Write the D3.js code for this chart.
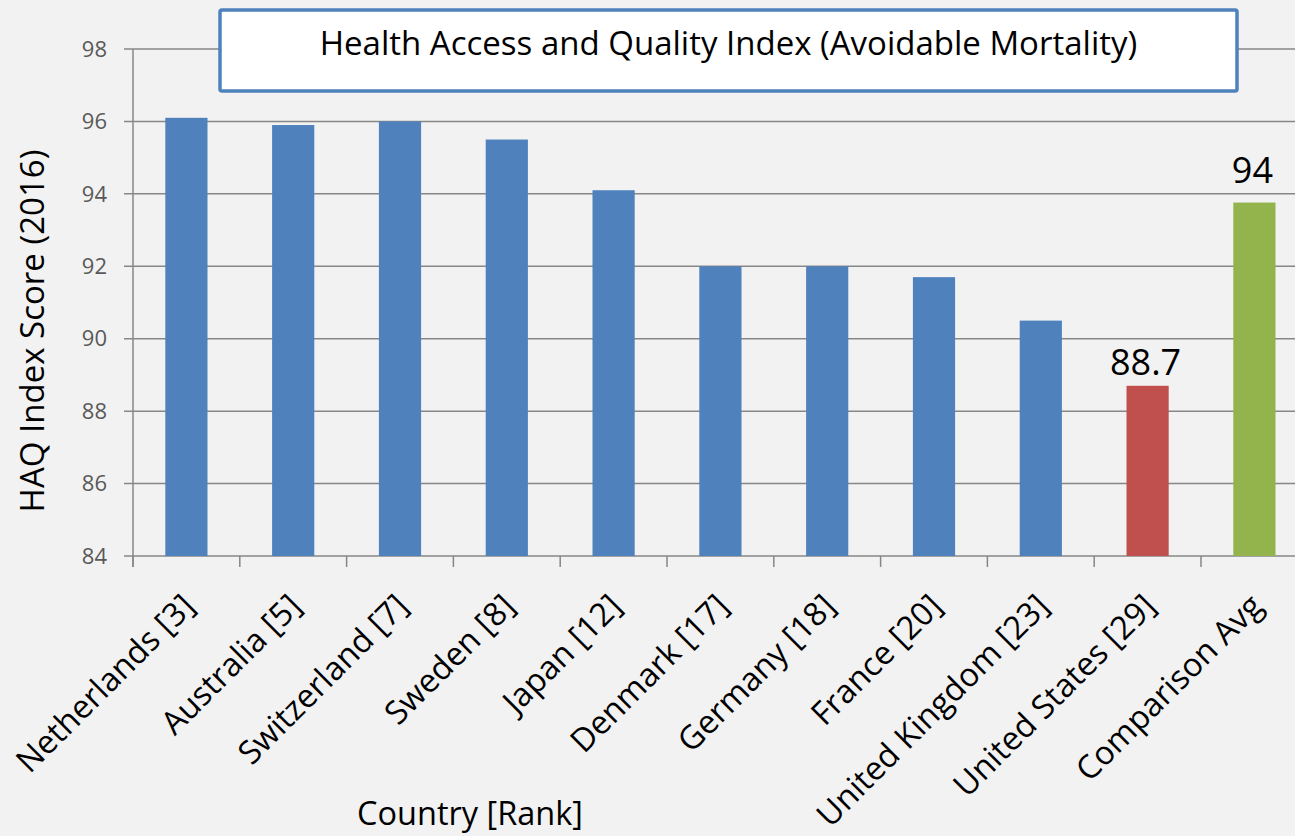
<!DOCTYPE html>
<html>
<head>
<meta charset="utf-8">
<script src="https://cdn.jsdelivr.net/npm/d3@7"></script>
<style>
  html, body { margin: 0; padding: 0; background: #f2f2f2; overflow: hidden; }
  svg { display: block; font-family: "Open Sans", Lato, sans-serif; }
</style>
</head>
<body>
<svg id="chart" width="1295" height="836"></svg>
<script>
// data
const countries = ["Netherlands [3]", "Australia [5]", "Switzerland [7]", "Sweden [8]", "Japan [12]",
  "Denmark [17]", "Germany [18]", "France [20]", "United Kingdom [23]", "United States [29]", "Comparison Avg"];
const scores = [96.1, 95.9, 96.0, 95.5, 94.1, 92.0, 92.0, 91.7, 90.5, 88.7, 93.76];
const barColors = ["#4f81bd", "#4f81bd", "#4f81bd", "#4f81bd", "#4f81bd", "#4f81bd", "#4f81bd", "#4f81bd", "#4f81bd", "#c0504d", "#93b44c"];
const yTicks = [84, 86, 88, 90, 92, 94, 96, 98];
// value labels shown above two of the bars
const labelCats = ["United States [29]", "Comparison Avg"];
const labelVals = [88.7, 94];

const titleText = "Health Access and Quality Index (Avoidable Mortality)";
const yTitle = "HAQ Index  Score (2016)";
const xTitle = "Country [Rank]";

const svg = d3.select("#chart");
const mLeft = 133, mTop = 49, mBottom = 556, step = 106.8;

const x = d3.scaleBand().domain(countries).range([mLeft, mLeft + step * countries.length]).padding(0);
const y = d3.scaleLinear().domain([84, 98]).range([mBottom, mTop]);
const barW = x.bandwidth() * 0.395;
const gridColor = "#878787";

// grid lines
svg.append("g").selectAll("line").data(yTicks).join("line")
  .attr("x1", mLeft - 9).attr("x2", 1295)
  .attr("y1", d => y(d)).attr("y2", d => y(d))
  .attr("stroke", gridColor).attr("stroke-width", 1.5);

// y axis line
svg.append("line").attr("x1", mLeft).attr("x2", mLeft).attr("y1", mTop).attr("y2", mBottom + 11)
  .attr("stroke", gridColor).attr("stroke-width", 1.5);

// x ticks at band boundaries
svg.append("g").selectAll("line").data(countries).join("line")
  .attr("x1", d => x(d)).attr("x2", d => x(d))
  .attr("y1", mBottom).attr("y2", mBottom + 11)
  .attr("stroke", gridColor).attr("stroke-width", 1.5);

// y tick labels
svg.append("g").selectAll("text").data(yTicks).join("text")
  .attr("x", 107).attr("y", d => y(d))
  .attr("dy", "0.35em")
  .attr("text-anchor", "end")
  .attr("font-size", 22)
  .attr("fill", "#595959")
  .text(d => d);

// bars
svg.append("g").selectAll("rect").data(countries).join("rect")
  .attr("x", d => x(d) + x.bandwidth() / 2 - barW / 2)
  .attr("width", barW)
  .attr("y", (d, i) => y(scores[i]))
  .attr("height", (d, i) => y(84) - y(scores[i]))
  .attr("fill", (d, i) => barColors[i]);

// value labels
svg.append("g").selectAll("text").data(labelCats).join("text")
  .attr("x", d => x(d) + x.bandwidth() / 2 - 2)
  .attr("y", (d, i) => y(labelVals[i]) - 11)
  .attr("text-anchor", "middle")
  .attr("font-size", 36)
  .attr("fill", "#000")
  .text((d, i) => labelVals[i]);

// x tick labels, rotated
svg.append("g").selectAll("text").data(countries).join("text")
  .attr("transform", d => `translate(${x(d) + x.bandwidth() / 2 + 10},608) rotate(-45)`)
  .attr("text-anchor", "end")
  .attr("font-size", 32.5)
  .attr("fill", "#000")
  .text(d => d);

// axis titles
svg.append("text")
  .attr("transform", "translate(44,331) rotate(-90)")
  .attr("text-anchor", "middle")
  .attr("font-size", 33)
  .attr("fill", "#000")
  .text(yTitle);

svg.append("text")
  .attr("x", 470).attr("y", 825)
  .attr("text-anchor", "middle")
  .attr("font-size", 32.5)
  .attr("fill", "#000")
  .text(xTitle);

// title box
svg.append("rect")
  .attr("x", 220).attr("y", 10).attr("width", 1017).attr("height", 81)
  .attr("rx", 2)
  .attr("fill", "#fff").attr("stroke", "#4f81bd").attr("stroke-width", 3.5);

svg.append("text")
  .attr("x", 728.5).attr("y", 55)
  .attr("text-anchor", "middle")
  .attr("font-size", 33)
  .attr("fill", "#000")
  .text(titleText);
</script>
</body>
</html>
